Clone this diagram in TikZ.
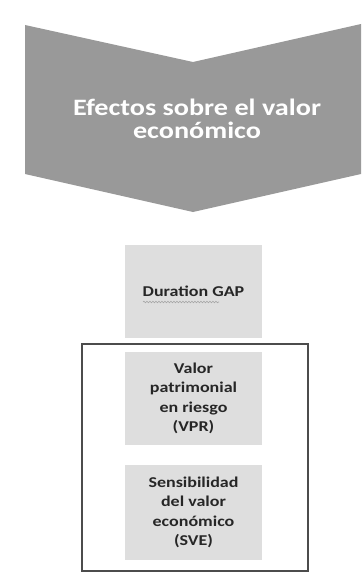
\documentclass[tikz,border=0pt]{standalone}
\usepackage{fontspec}
\setmainfont{Carlito}
\newfontfamily\widefont[FakeStretch=1.2]{Carlito}
\usetikzlibrary{decorations.pathmorphing}
\begin{document}
\begin{tikzpicture}%
	[x=1pt, y=-1pt,
	chevron/.style={fill=black!40, draw=none},
	title/.style={text=white, font=\widefont\fontsize{23.5}{23.5}\selectfont\bfseries, align=center},
	itembox/.style={fill=black!13, draw=none, minimum width=137pt, inner sep=0pt,
		text=black!85, font=\widefont\fontsize{15}{19.5}\selectfont\bfseries, align=center},
	frame/.style={draw=black!70, line width=1.4pt},
	squiggle/.style={draw=black!35, line width=0.6pt,
		decorate, decoration={snake, amplitude=0.8pt, segment length=3pt}}]
%
\useasboundingbox (0,0) rectangle (363,586);
%%
%% Chevron pointing down
%%
\fill[chevron] (25,25) -- (193,62) -- (361,24) -- (361,174) -- (193,212) -- (25,174) -- cycle;
\node[title] (efectos) at (197,119) {Efectos sobre el valor\\econ\'omico};
%%
%% Boxes
%%
\node[itembox, minimum height=93pt] (dgap) at (193.5,291.5) {Duration GAP};
\draw[squiggle] (143,302) -- (219,302);
\node[itembox, minimum height=93pt] (vpr) at (193.5,398.5) {Valor\\patrimonial\\en riesgo\\(VPR)};
\node[itembox, minimum height=95pt] (sve) at (193.5,512.5) {Sensibilidad\\del valor\\econ\'omico\\(SVE)};
%%
%% Frame round VPR and SVE
%%
\draw[frame] (82,344) rectangle (308,571);
%%
\end{tikzpicture}
\end{document}
